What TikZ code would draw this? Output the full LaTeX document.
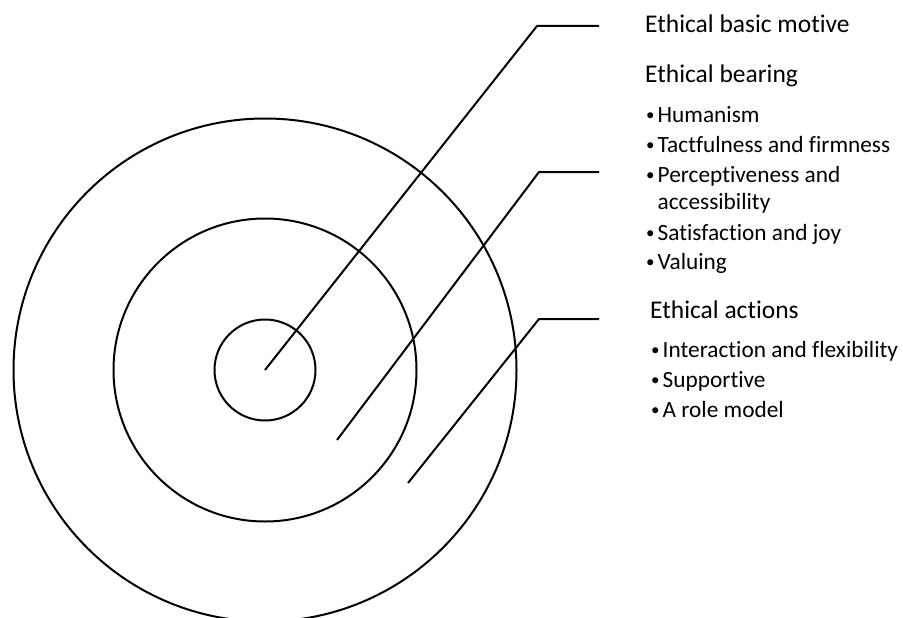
\documentclass[tikz,border=0pt]{standalone}
\usepackage{fontspec}
\setmainfont{Carlito}[Ligatures=NoCommon]
\begin{document}
\begin{tikzpicture}[x=1pt,y=-1pt,
  ring/.style={draw=black,line width=2pt,circle,inner sep=0pt},
  leader/.style={draw=black,line width=2pt,line join=miter},
  heading/.style={anchor=base west,inner sep=0pt,text=black,font=\fontsize{25.5pt}{30pt}\selectfont},
  item/.style={anchor=base west,inner sep=0pt,text=black,font=\fontsize{23.3pt}{28pt}\selectfont}]
\useasboundingbox (0,0) rectangle (903,618);
% circles
\coordinate (c) at (265,370);
\node[ring,minimum size=101pt] (inner) at (c) {};
\node[ring,minimum size=303pt] (middle) at (c) {};
\node[ring,minimum size=503pt] (outer) at (c) {};
% leader lines
\coordinate (s1) at (265,370);
\coordinate (k1) at (537,26);
\coordinate (e1) at (599,26);
\coordinate (s2) at (337,440);
\coordinate (k2) at (539,172);
\coordinate (e2) at (599,172);
\coordinate (s3) at (408,483);
\coordinate (k3) at (539,319);
\coordinate (e3) at (599,319);
\draw[leader] (s1) -- (k1) -- (e1);
\draw[leader] (s2) -- (k2) -- (e2);
\draw[leader] (s3) -- (k3) -- (e3);
% texts
\newcommand{\bul}{\makebox[11.5pt][l]{\raisebox{1.6pt}{\fontsize{17pt}{17pt}\selectfont •}}}
\node[heading] (h1) at (645,32.5) {Ethical basic motive};
\node[heading] (h2) at (645,83) {Ethical bearing};
\node[item] (b1) at (646,122) {\bul Humanism};
\node[item] (b2) at (646,152.5) {\bul Tactfulness and firmness};
\node[item] (b3) at (646,182.5) {\bul Perceptiveness and};
\node[item] (b3b) at (657.5,209.5) {accessibility};
\node[item] (b4) at (646,240) {\bul Satisfaction and joy};
\node[item] (b5) at (646,269) {\bul Valuing};
\node[heading] (h3) at (650,318) {Ethical actions};
\node[item] (b6) at (651,357.5) {\bul Interaction and flexibility};
\node[item] (b7) at (651,387.5) {\bul Supportive};
\node[item] (b8) at (651,417) {\bul A role model};
\end{tikzpicture}
\end{document}
